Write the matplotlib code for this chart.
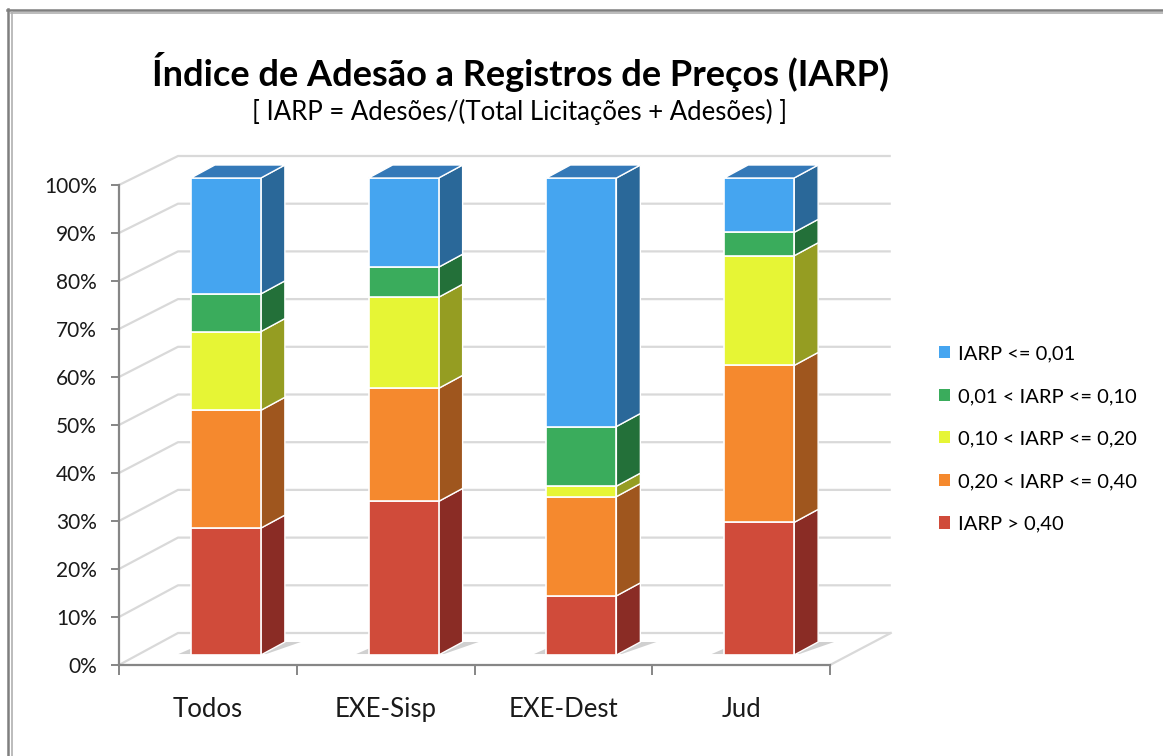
import matplotlib
matplotlib.use("Agg")
import matplotlib.pyplot as plt
from matplotlib.patches import Polygon, Patch
from matplotlib.lines import Line2D
from matplotlib.transforms import ScaledTranslation
import numpy as np

plt.rcParams['font.family'] = ['Lato', 'DejaVu Sans']

# ---------------- data ----------------
categories = ["Todos", "EXE-Sisp", "EXE-Dest", "Jud"]
series_names = ["IARP > 0,40", "0,20 < IARP <= 0,40", "0,10 < IARP <= 0,20",
                "0,01 < IARP <= 0,10", "IARP <= 0,01"]
iarp_gt_040 = [26.6, 32.2, 12.4, 27.8]
iarp_020_040 = [24.7, 23.7, 20.8, 32.9]
iarp_010_020 = [16.5, 19.1, 2.2, 23.0]
iarp_001_010 = [7.9, 6.3, 12.5, 4.9]
iarp_le_001 = [24.3, 18.7, 52.1, 11.4]
series_values = [iarp_gt_040, iarp_020_040, iarp_010_020, iarp_001_010, iarp_le_001]
yticks = list(range(0, 101, 10))
ytick_labels = [f"{v}%" for v in yticks]
title = "Índice de Adesão a Registros de Preços (IARP)"
subtitle = "[ IARP = Adesões/(Total Licitações + Adesões) ]"

# ---------------- style ----------------
front_colors = ["#D04B3A", "#F5892E", "#E6F535", "#3AAC5C", "#45A5F0"]
side_colors = ["#8A2C25", "#9F561E", "#959D22", "#237039", "#2A6899"]
top_color = "#3479B8"
grid_color = "#D9D9D9"
axis_color = "#868686"

W, H = 1163, 756
fig = plt.figure(figsize=(W / 100, H / 100), dpi=100)
fig.patch.set_facecolor("white")

ax_l, ax_r, ax_t, ax_b = 119, 830, 185, 665
ax = fig.add_axes([ax_l / W, 1 - ax_b / H, (ax_r - ax_l) / W, (ax_b - ax_t) / H])
ax.set_xlim(-0.5, len(categories) - 0.5)
ax.set_ylim(0, 100)
ax.set_facecolor("none")

px_per_cat = (ax_r - ax_l) / len(categories)
px_per_pct = (ax_b - ax_t) / 100.0

# back wall / left wall gridlines
wall_dx = 59 / px_per_cat
wall_dy = 32 / px_per_pct
wall_scale = 477 / 480.0
for v in yticks:
    xs = [-0.5, -0.5 + wall_dx, len(categories) - 0.5 + wall_dx + 0.01]
    ys = [v, v * wall_scale + wall_dy, v * wall_scale + wall_dy]
    ax.plot(xs, ys, color=grid_color, lw=1.6, clip_on=False, zorder=0.5,
            solid_capstyle="butt")
# floor right edge
ax.plot([len(categories) - 0.5, len(categories) - 0.5 + wall_dx + 0.01],
        [0, wall_dy], color=grid_color, lw=1.6, clip_on=False, zorder=0.5)

# bars (pseudo 3D)
bar_tr = ax.transData + ScaledTranslation(18 / 100, 10 / 100, fig.dpi_scale_trans)
bar_w = 70 / px_per_cat
bdx = 24 / px_per_cat
bdy = 13 / px_per_pct
bar_scale = 477 / 480.0

for i, cat in enumerate(categories):
    x0 = i - bar_w / 2
    x1 = i + bar_w / 2
    # shadow on floor
    sh = Polygon([(x0 - 0.07, 0.2), (x1 + 0.03, 0.2), (x1 + bdx + 0.09, bdy),
                  (x0 + bdx - 0.05, bdy)], closed=True, facecolor="#7a7a7a",
                 edgecolor="none", alpha=0.35, transform=bar_tr, zorder=1,
                 clip_on=False)
    ax.add_patch(sh)
    bottom = 0.0
    for s, vals in enumerate(series_values):
        v = vals[i]
        yb = bottom * bar_scale
        yt = (bottom + v) * bar_scale
        side = Polygon([(x1, yb), (x1 + bdx, yb + bdy), (x1 + bdx, yt + bdy), (x1, yt)],
                       closed=True, facecolor=side_colors[s], edgecolor="white",
                       lw=1.0, transform=bar_tr, zorder=2, clip_on=False)
        ax.add_patch(side)
        front = Polygon([(x0, yb), (x1, yb), (x1, yt), (x0, yt)], closed=True,
                        facecolor=front_colors[s], edgecolor="white", lw=1.2,
                        transform=bar_tr, zorder=3, clip_on=False)
        ax.add_patch(front)
        bottom += v
    ytop = bottom * bar_scale
    top = Polygon([(x0, ytop), (x1, ytop), (x1 + bdx, ytop + bdy), (x0 + bdx, ytop + bdy)],
                  closed=True, facecolor=top_color, edgecolor="white", lw=1.0,
                  transform=bar_tr, zorder=3, clip_on=False)
    ax.add_patch(top)

# axes styling
for sp in ["top", "right"]:
    ax.spines[sp].set_visible(False)
for sp in ["left", "bottom"]:
    ax.spines[sp].set_color(axis_color)
    ax.spines[sp].set_linewidth(1.6)
ax.set_yticks(yticks)
ax.set_yticklabels(ytick_labels, fontsize=15, color="#1a1a1a")
ax.tick_params(axis="y", length=6, width=1.4, color=axis_color, pad=10)
ax.set_xticks(np.arange(-0.5, len(categories), 1.0))
ax.set_xticklabels([])
ax.tick_params(axis="x", which="major", length=7, width=1.4, color=axis_color)
ax.set_xticks(np.arange(len(categories)), minor=True)
ax.set_xticklabels(categories, minor=True, fontsize=18.5, color="#1a1a1a")
ax.tick_params(axis="x", which="minor", length=0, pad=23)

# titles
fig.text(520 / W, 1 - 72 / H, title, fontsize=26, fontweight="bold",
         ha="center", va="center", color="black")
fig.text(520 / W, 1 - 112 / H, subtitle, fontsize=18.5, ha="center", va="center",
         color="black")

# legend (top-to-bottom: blue ... red)
handles = [Patch(facecolor=front_colors[s], edgecolor="none") for s in range(len(series_names))][::-1]
labels = series_names[::-1]
fig.legend(handles, labels, loc="center left", bbox_to_anchor=(939 / W, 1 - 439 / H),
           frameon=False, fontsize=14.5, handlelength=0.55, handleheight=0.55,
           handletextpad=0.4, labelspacing=1.27, borderpad=0, borderaxespad=0)

# chart-area border (top and left double line)
fig.add_artist(Line2D([7 / W, 1], [1 - 9.5 / H, 1 - 9.5 / H], color="#7f7f7f", lw=1.8))
fig.add_artist(Line2D([8 / W, 8 / W], [0, 1 - 8.5 / H], color="#7f7f7f", lw=1.8))
fig.add_artist(Line2D([11 / W, 1], [1 - 12.5 / H, 1 - 12.5 / H], color="#b0b0b0", lw=1.2))
fig.add_artist(Line2D([11.5 / W, 11.5 / W], [0, 1 - 12 / H], color="#b0b0b0", lw=1.2))

fig.savefig("out.png", dpi=100, facecolor="white")
